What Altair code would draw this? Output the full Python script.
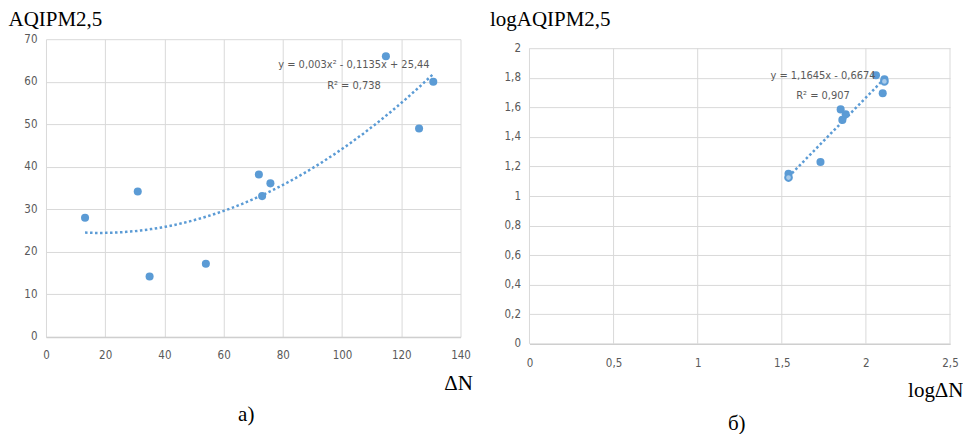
import altair as alt
import pandas as pd

# ---- data ----
left_x = [13.2, 31, 35, 54, 71.9, 73, 75.8, 114.8, 126, 130.8]
left_y = [28, 34.2, 14.2, 17.2, 38.2, 33.1, 36.1, 66, 49, 60]

right_x = [1.54, 1.73, 1.85, 1.86, 1.88, 2.06, 2.10, 2.11]
right_y = [1.15, 1.23, 1.586, 1.515, 1.553, 1.817, 1.695, 1.79]
right_hollow_x = [1.54, 2.11]
right_hollow_y = [1.125, 1.775]

left_x_ticks = [0, 20, 40, 60, 80, 100, 120, 140]
left_y_ticks = [0, 10, 20, 30, 40, 50, 60, 70]
right_x_ticks = [0, 0.5, 1, 1.5, 2, 2.5]
right_y_ticks = [0, 0.2, 0.4, 0.6, 0.8, 1, 1.2, 1.4, 1.6, 1.8, 2]

left_eq = ["y = 0,003x² - 0,1135x + 25,44", "R² = 0,738"]
left_eq_x = [104, 104]
left_eq_y = [64, 58.9]
right_eq = ["y = 1,1645x - 0,6674", "R² = 0,907"]
right_eq_x = [1.745, 1.745]
right_eq_y = [1.815, 1.678]

BLUE = "#5B9BD5"
LIGHT = "#A9CBEA"
GRID = "#d9d9d9"
LBL = "#595959"
NARROW = "DejaVu Sans Condensed, sans-serif"
SERIF = "Liberation Serif, Times New Roman, serif"

left_df = pd.DataFrame({"x": left_x, "y": left_y})
right_df = pd.DataFrame({
    "x": right_x + right_hollow_x,
    "y": right_y + right_hollow_y,
    "kind": ["filled"] * len(right_x) + ["hollow"] * len(right_hollow_x),
})
left_eq_df = pd.DataFrame({"t": left_eq, "x": left_eq_x, "y": left_eq_y})
right_eq_df = pd.DataFrame({"t": right_eq, "x": right_eq_x, "y": right_eq_y})
right_vgrid_df = pd.DataFrame({"v": right_x_ticks})

comma = "replace(toString(datum.value), '.', ',')"


def x_axis(values, title, tx, ty, pad, grid=True):
    return alt.Axis(values=values, tickCount=len(values), grid=grid,
                    gridColor=GRID, gridWidth=1,
                    domain=True, domainColor="#cfcfcf", domainWidth=1.5,
                    ticks=False, labelFont=NARROW, labelFontSize=11.5,
                    labelColor=LBL, labelPadding=pad, labelExpr=comma,
                    labelOverlap=False, labelFlush=False,
                    title=title, titleFont=SERIF, titleFontSize=21,
                    titleFontWeight="normal", titleColor="black",
                    titleAlign="right", titleBaseline="alphabetic",
                    titleX=tx, titleY=ty)


def y_axis(values, title, tx, ty):
    return alt.Axis(values=values, tickCount=len(values), grid=True,
                    gridColor=GRID, gridWidth=1,
                    domain=False, ticks=False, labelFont=NARROW,
                    labelFontSize=11.5, labelColor=LBL, labelPadding=9,
                    labelExpr=comma, labelOverlap=False, labelFlush=False,
                    title=title, titleFont=SERIF, titleFontSize=21,
                    titleFontWeight="normal", titleColor="black",
                    titleAngle=0, titleAlign="left",
                    titleBaseline="alphabetic", titleX=tx, titleY=ty)


# ---- left chart ----
lx = alt.X("x:Q", scale=alt.Scale(domain=[0, 140], nice=False),
           axis=x_axis(left_x_ticks, "ΔN", 427, 53, 13))
ly = alt.Y("y:Q", scale=alt.Scale(domain=[0, 70], nice=False),
           axis=y_axis(left_y_ticks, "AQIPM2,5", -38, -14))

left_pts = alt.Chart(left_df).mark_circle(size=65, color=BLUE, opacity=1).encode(x=lx, y=ly)
left_fit = alt.Chart(left_df).transform_regression(
    "x", "y", method="poly", order=2
).mark_line(color=BLUE, strokeWidth=2.5, strokeDash=[2.5, 2.5]).encode(x=lx, y=ly)
left_txt = alt.Chart(left_eq_df).mark_text(
    font=NARROW, fontSize=11, color=LBL, align="center", baseline="middle"
).encode(x=alt.X("x:Q"), y=alt.Y("y:Q"), text="t:N")

left = alt.layer(left_fit, left_pts, left_txt).properties(
    width=415, height=298,
    title=alt.TitleParams("а)", orient="bottom", anchor="middle", font=SERIF,
                          fontSize=21, fontWeight="normal", color="black",
                          dx=-7, offset=10),
)

# ---- right chart (plot starts 9px lower than the left one) ----
rx = alt.X("x:Q", scale=alt.Scale(domain=[0, 2.5], nice=False),
           axis=x_axis(right_x_ticks, "logΔN", 434, 53, 14, grid=False))
ry = alt.Y("y:Q", scale=alt.Scale(domain=[0, 2], nice=False, range=[305, 9]),
           axis=y_axis(right_y_ticks, "logAQIPM2,5", -40, -14))

right_vgrid = alt.Chart(right_vgrid_df).mark_rule(color=GRID, strokeWidth=1).encode(
    x=alt.X("v:Q", scale=alt.Scale(domain=[0, 2.5], nice=False)),
    y=alt.datum(0), y2=alt.datum(2))
right_pts = alt.Chart(right_df).transform_filter("datum.kind == 'filled'").mark_circle(
    size=65, color=BLUE, opacity=1).encode(x=rx, y=ry)
right_hol = alt.Chart(right_df).transform_filter("datum.kind == 'hollow'").mark_point(
    shape="circle", size=45, filled=True, fill=LIGHT, stroke=BLUE, strokeWidth=2,
    opacity=1).encode(x=rx, y=ry)
right_fit = alt.Chart(right_df).transform_regression(
    "x", "y", method="linear"
).mark_line(color=BLUE, strokeWidth=2.5, strokeDash=[2.5, 2.5]).encode(x=rx, y=ry)
right_txt = alt.Chart(right_eq_df).mark_text(
    font=NARROW, fontSize=11, color=LBL, align="center", baseline="middle"
).encode(x=alt.X("x:Q"), y=alt.Y("y:Q"), text="t:N")

right = alt.layer(right_vgrid, right_fit, right_pts, right_hol, right_txt).properties(
    width=421, height=305,
    title=alt.TitleParams("б)", orient="bottom", anchor="middle", font=SERIF,
                          fontSize=21, fontWeight="normal", color="black",
                          dx=-3, offset=12),
)

chart = alt.hconcat(left, right, spacing=17).properties(
    padding=0, background="white"
).configure_view(stroke=None)

chart.save("out.html", embed_options={"renderer": "svg", "actions": False})
